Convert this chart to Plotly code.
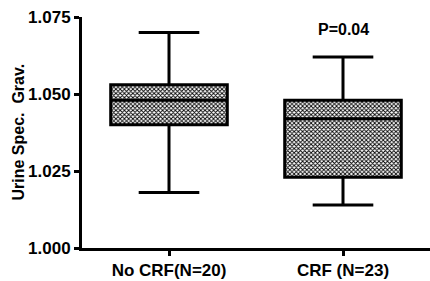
import plotly.graph_objects as go

categories = ["No CRF(N=20)", "CRF (N=23)"]
lower_whisker = [1.018, 1.014]
q1_values = [1.040, 1.023]
medians = [1.048, 1.042]
q3_values = [1.053, 1.048]
upper_whisker = [1.070, 1.062]
y_ticks = [1.000, 1.025, 1.050, 1.075]
p_label = "P=0.04"
y_title = "Urine Spec.  Grav."

font_family = "Liberation Sans, Arial, sans-serif"
box_w = 0.67

fig = go.Figure()
fig.add_trace(go.Bar(
    x=categories,
    y=[q3 - q1 for q1, q3 in zip(q1_values, q3_values)],
    base=q1_values,
    width=box_w,
    marker=dict(color="white", line=dict(width=0),
                pattern=dict(shape="x", size=3, solidity=0.5,
                             fgcolor="black", bgcolor="white", fillmode="replace")),
    hoverinfo="skip",
    showlegend=False,
))
fig.add_trace(go.Box(
    x=categories,
    q1=q1_values,
    median=medians,
    q3=q3_values,
    lowerfence=lower_whisker,
    upperfence=upper_whisker,
    width=box_w,
    whiskerwidth=0.52,
    fillcolor="rgba(0,0,0,0)",
    line=dict(color="black", width=3),
    showlegend=False,
    boxpoints=False,
))

fig.add_annotation(x=categories[1], y=1.0711, xref="x", yref="y",
                   text=p_label, showarrow=False,
                   font=dict(family=font_family, size=16, color="black", weight="bold"))
fig.add_annotation(x=-64 / 348, y=0.5, xref="paper", yref="paper",
                   text=y_title, showarrow=False, textangle=-90,
                   xanchor="center", yanchor="middle",
                   font=dict(family=font_family, size=16, color="black", weight="bold"))

fig.update_layout(
    width=430, height=281,
    margin=dict(l=82, r=0, t=17, b=33, autoexpand=False),
    paper_bgcolor="white", plot_bgcolor="white",
    font=dict(family=font_family, color="black", size=17, weight="bold"),
    boxmode="overlay", barmode="overlay",
    xaxis=dict(type="category", range=[-0.5, 1.5], showline=True, linecolor="black",
               linewidth=3, ticks="outside", ticklen=5, tickwidth=3, tickcolor="black",
               showgrid=False, zeroline=False, automargin=False,
               tickfont=dict(family=font_family, size=17, color="black", weight="bold")),
    yaxis=dict(range=[1.0, 1.075], tickvals=y_ticks, tickformat=".3f",
               showline=True, linecolor="black", linewidth=3, ticks="outside",
               ticklen=5, tickwidth=3, tickcolor="black", showgrid=False, zeroline=False,
               automargin=False,
               tickfont=dict(family=font_family, size=17, color="black", weight="bold")),
)

fig.write_html("out.html", config={"displayModeBar": False},
               post_script="document.body.style.margin='0';document.body.style.padding='0';")
